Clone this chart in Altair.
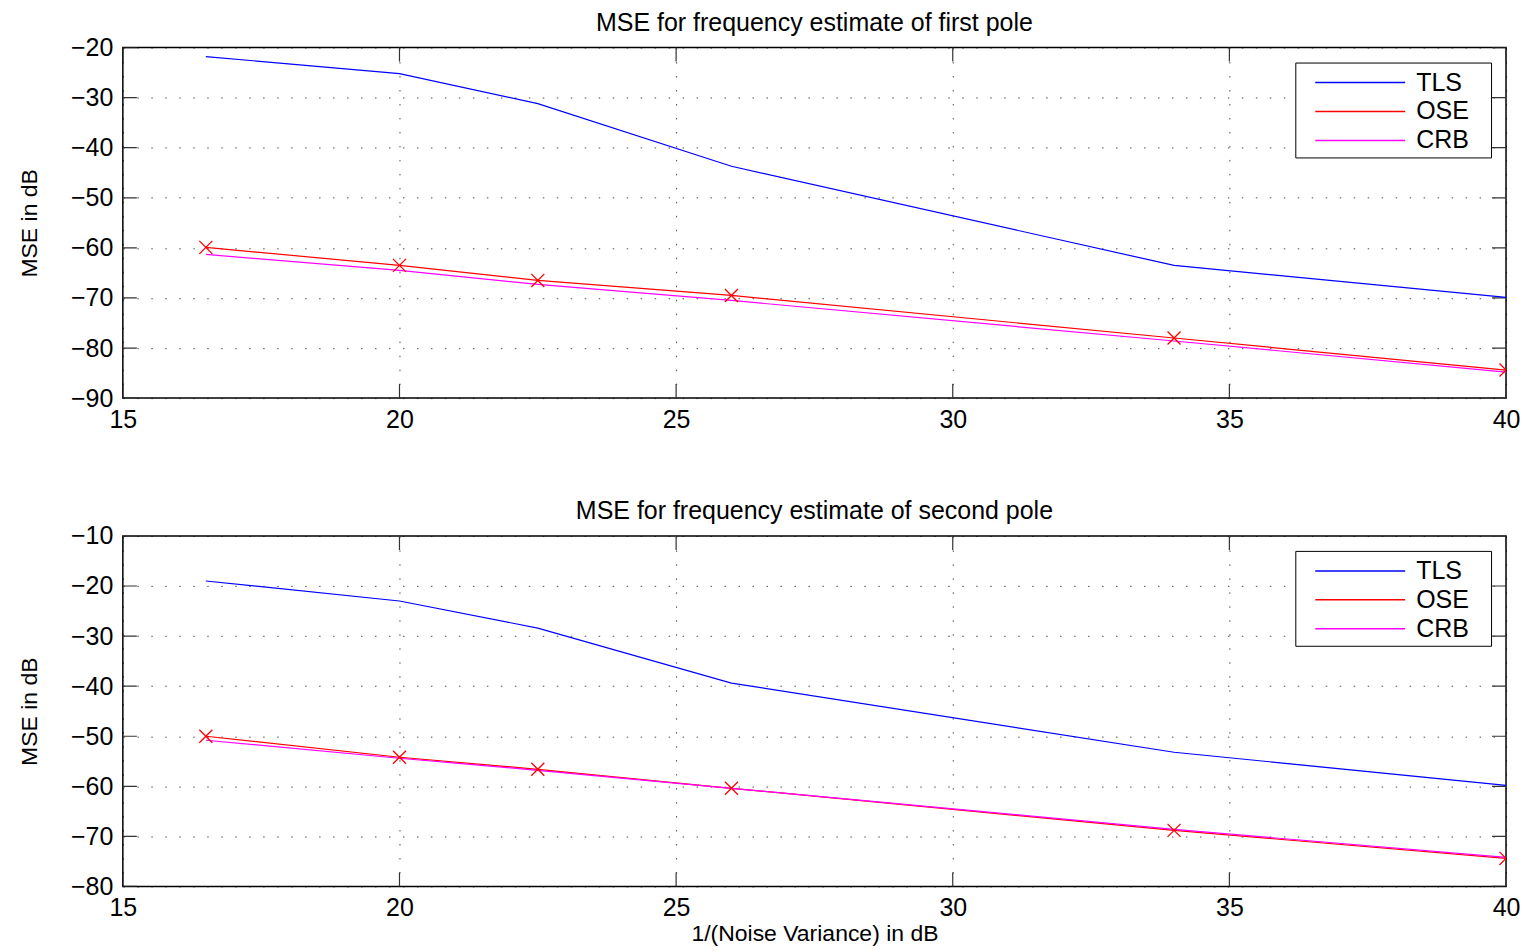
import altair as alt
import pandas as pd

snr = [16.5, 20, 22.5, 26, 34, 40]
tls1 = [-21.8, -25.2, -31.2, -43.7, -63.5, -69.9]
ose1 = [-59.9, -63.5, -66.5, -69.5, -78.0, -84.4]
crb1 = [-61.3, -64.5, -67.3, -70.5, -78.6, -84.8]
tls2 = [-19.0, -23.0, -28.4, -39.4, -53.2, -59.8]
ose2 = [-50.0, -54.2, -56.6, -60.4, -68.8, -74.4]
crb2 = [-50.8, -54.4, -56.8, -60.4, -68.6, -74.2]

series_names = ["TLS", "OSE", "CRB"]
series_colors = ["#0000FF", "#FF0000", "#FF00FF"]
x_ticks = [15, 20, 25, 30, 35, 40]
y_ticks1 = [-20, -30, -40, -50, -60, -70, -80, -90]
y_ticks2 = [-10, -20, -30, -40, -50, -60, -70, -80]
titles = ["MSE for frequency estimate of first pole",
          "MSE for frequency estimate of second pole"]
x_title = "1/(Noise Variance) in dB"
y_title = "MSE in dB"

FONT = "Liberation Sans"
W, H = 1385, 351
PAD_CHARS = "\u2800"


def panel(tls, ose, crb, yticks, title, show_xtitle):
    ymin, ymax = min(yticks), max(yticks)
    rows = []
    for name, vals in zip(series_names, [tls, ose, crb]):
        for xv, yv in zip(snr, vals):
            rows.append({"x": xv, "y": yv, "series": name})
    df = pd.DataFrame(rows)

    xenc = alt.X("x:Q", scale=alt.Scale(domain=[x_ticks[0], x_ticks[-1]], nice=False, zero=False),
                 axis=alt.Axis(values=x_ticks, title=x_title if show_xtitle else None))
    yenc = alt.Y("y:Q", scale=alt.Scale(domain=[ymin, ymax], nice=False, zero=False),
                 axis=alt.Axis(values=yticks, title=y_title))
    color = alt.Color("series:N",
                      scale=alt.Scale(domain=series_names, range=series_colors),
                      sort=series_names,
                      legend=alt.Legend(title=None, orient="top-right",
                                        labelExpr="datum.label + '" + PAD_CHARS + "'"))

    layers = []
    for name in series_names:
        layers.append(
            alt.Chart(df).transform_filter(alt.datum.series == name)
            .mark_line(strokeWidth=1.2, clip=True)
            .encode(x=xenc, y=yenc, color=color)
        )
    markers = (alt.Chart(df).transform_filter(alt.datum.series == "OSE")
               .mark_point(shape="M -1 -1 L 1 1 M -1 1 L 1 -1", size=170, filled=False,
                           color="#FF0000", strokeWidth=1.3, opacity=1, clip=True)
               .encode(x=xenc, y=yenc))

    n = len(yticks)
    yt = pd.DataFrame({"y": yticks * 2, "x": [x_ticks[0]] * n + [x_ticks[-1]] * n})
    m = len(x_ticks)
    xt = pd.DataFrame({"x": x_ticks * 2, "y": [ymin] * m + [ymax] * m})
    ytick_marks = (alt.Chart(yt).mark_tick(orient="horizontal", size=28, thickness=1.2,
                                           color="#333333", opacity=1, clip=True)
                   .encode(x=xenc, y=yenc))
    xtick_marks = (alt.Chart(xt).mark_tick(orient="vertical", size=28, thickness=1.2,
                                           color="#333333", opacity=1, clip=True)
                   .encode(x=xenc, y=yenc))

    return alt.layer(ytick_marks, xtick_marks, *layers, markers).properties(
        width=W, height=H,
        title=alt.TitleParams(title, fontSize=25, font=FONT, fontWeight="normal",
                              color="black", offset=0, anchor="middle", frame="group"),
    )


top = panel(tls1, ose1, crb1, y_ticks1, titles[0], False)
bottom = panel(tls2, ose2, crb2, y_ticks2, titles[1], True)

chart = (
    alt.vconcat(top, bottom, spacing=65)
    .resolve_scale(color="independent")
    .resolve_legend(color="independent")
    .properties(padding={"left": 9, "top": 1, "right": 0, "bottom": 0}, background="white")
    .configure(font=FONT)
    .configure_view(stroke="black", strokeWidth=1.5)
    .configure_axis(
        domain=False, ticks=False, grid=True,
        gridColor="#000000", gridOpacity=0.7, gridDash=[1.5, 12.5], gridWidth=1,
        labelFont=FONT, labelFontSize=25, labelColor="black", labelPadding=10,
        titleFont=FONT, titleFontSize=23, titleFontWeight="normal", titleColor="black",
    )
    .configure_axisY(titlePadding=29)
    .configure_axisX(titlePadding=2, labelPadding=9, labelFlush=False, titleFontSize=23)
    .configure_legend(
        symbolType="M -3 0 L 3 0", symbolSize=900, symbolStrokeWidth=1.5,
        symbolOffset=45, labelOffset=40, labelFontSize=25, labelFont=FONT, labelColor="black",
        padding=4, strokeColor="black", fillColor="white", offset=15, rowPadding=0,
        cornerRadius=0,
    )
)

chart.save("out.html", embed_options={"renderer": "svg", "actions": False})
